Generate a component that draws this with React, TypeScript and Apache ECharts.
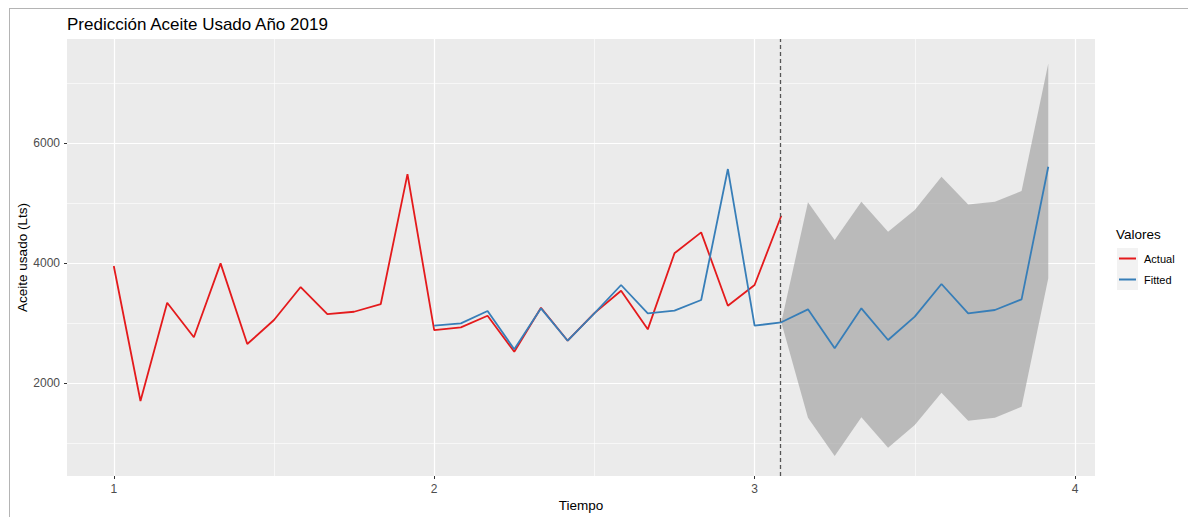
import React, { useEffect, useRef } from "react";
import * as echarts from "echarts";

// Time axis: monthly series starting at period 1
const startPeriod = 1;
const frequency = 12;

// Observed values (period 1, month 1 .. period 3, month 2)
const actual = [3955, 1705, 3344, 2767, 4000, 2655, 3055, 3605, 3155, 3193, 3322, 5488,
  2888, 2933, 3127, 2527, 3260, 2710, 3170, 3544, 2900, 4167, 4517, 3294,
  3639, 4794];
// Fitted values start at index 12
const fittedStart = 12;
const fitted = [2961, 3000, 3205, 2567, 3250, 2710, 3167, 3639, 3167, 3211, 3389, 5572, 2961, 3017];
// Forecast (starts at index 25, the last observed point)
const forecastStart = 25;
const forecast = [3017, 3233, 2583, 3250, 2722, 3111, 3656, 3167, 3222, 3400, 5611];
const upper = [3017, 5017, 4389, 5028, 4528, 4889, 5444, 4983, 5028, 5206, 7333];
const lower = [3017, 1428, 789, 1433, 928, 1306, 1844, 1378, 1428, 1611, 3750];

const xTicks = [1, 2, 3, 4];
const xMinorGrid = [1.5, 2.5, 3.5];
const yTicks = [2000, 4000, 6000];
const yMinorGrid = [1000, 3000, 5000, 7000];
const forecastMarker = 3 + 1 / 12;

const FONT = "Liberation Sans, Arial, sans-serif";
const tAt = (i: number) => startPeriod + i / frequency;

export default function App() {
  const ref = useRef<HTMLDivElement>(null);
  useEffect(() => {
    if (!ref.current) return;
    const chart = echarts.init(ref.current, null, { renderer: "svg" });

    const actualData = actual.map((v, i) => [tAt(i), v]);
    const blue = [...fitted, ...forecast.slice(1)];
    const blueData = blue.map((v, i) => [tAt(fittedStart + i), v]);
    const bandData = upper.map((u, i) => [tAt(forecastStart + i), lower[i], u]);

    const option: any = {
      animation: false,
      title: {
        text: "Predicción Aceite Usado Año 2019",
        left: 67,
        top: 16,
        padding: 0,
        textStyle: { fontFamily: FONT, fontSize: 17, fontWeight: "normal", color: "#000" },
      },
      grid: {
        left: 67, right: 93, top: 39, bottom: 41, show: true, backgroundColor: "#EBEBEB", borderWidth: 0,
        containLabel: false, outerBoundsMode: "none",
      },
      xAxis: {
        type: "value",
        min: 0.854,
        max: 4.0625,
        name: "Tiempo",
        nameLocation: "middle",
        nameGap: 22,
        nameMoveOverlap: false,
        nameTextStyle: { fontFamily: FONT, fontSize: 13.5, color: "#000" },
        splitLine: { show: false },
        axisLine: { show: false },
        axisTick: { show: true, customValues: xTicks, length: 3, lineStyle: { color: "#333", width: 1 } },
        axisLabel: { customValues: xTicks, color: "#4D4D4D", fontSize: 12, fontFamily: FONT, margin: 7, formatter: (v: number) => String(v) },
      },
      yAxis: {
        type: "value",
        min: 455,
        max: 7740,
        name: "Aceite usado (Lts)",
        nameLocation: "middle",
        nameGap: 38,
        nameMoveOverlap: false,
        nameTextStyle: { fontFamily: FONT, fontSize: 13.5, color: "#000" },
        splitLine: { show: false },
        axisLine: { show: false },
        axisTick: { show: true, customValues: yTicks, length: 3, lineStyle: { color: "#333", width: 1 } },
        axisLabel: { customValues: yTicks, color: "#4D4D4D", fontSize: 12, fontFamily: FONT, margin: 7, formatter: (v: number) => String(v) },
      },
      series: [
        {
          type: "line",
          data: [],
          silent: true,
          z: 1,
          markLine: {
            silent: true,
            z: 1,
            symbol: ["none", "none"],
            label: { show: false },
            emphasis: { disabled: true },
            lineStyle: { type: "solid", color: "#FFFFFF", width: 0.6 },
            data: [...xMinorGrid.map((v) => ({ xAxis: v })), ...yMinorGrid.map((v) => ({ yAxis: v }))],
          },
        },
        {
          type: "line",
          data: [],
          silent: true,
          z: 1,
          markLine: {
            silent: true,
            z: 1,
            symbol: ["none", "none"],
            label: { show: false },
            emphasis: { disabled: true },
            lineStyle: { type: "solid", color: "#FFFFFF", width: 1.2 },
            data: [...xTicks.map((v) => ({ xAxis: v })), ...yTicks.map((v) => ({ yAxis: v }))],
          },
        },
        {
          type: "custom",
          name: "Intervalo",
          z: 2,
          silent: true,
          data: bandData,
          encode: { x: 0, y: [1, 2] },
          renderItem: (params: any, api: any) => {
            if (params.dataIndex !== 0) return null;
            const top = bandData.map((d) => api.coord([d[0], d[2]]));
            const bot = bandData.map((d) => api.coord([d[0], d[1]])).reverse();
            return {
              type: "polygon",
              shape: { points: [...top, ...bot] },
              style: { fill: "rgba(165,165,165,0.7)" },
            };
          },
        },
        {
          type: "line",
          name: "Actual",
          z: 3,
          data: actualData,
          showSymbol: false,
          lineStyle: { color: "#E41A1C", width: 1.8 },
          itemStyle: { color: "#E41A1C" },
        },
        {
          type: "line",
          name: "Fitted",
          z: 4,
          data: blueData,
          showSymbol: false,
          lineStyle: { color: "#377EB8", width: 1.8 },
          itemStyle: { color: "#377EB8" },
        },
        {
          type: "line",
          data: [],
          silent: true,
          z: 6,
          markLine: {
            silent: true,
            z: 6,
            symbol: ["none", "none"],
            label: { show: false },
            emphasis: { disabled: true },
            lineStyle: { type: [4, 3], color: "#555555", width: 1.3 },
            data: [{ xAxis: forecastMarker }],
          },
        },
      ],
      graphic: [
        { type: "line", shape: { x1: 9, y1: 8.5, x2: 1188, y2: 8.5 }, style: { stroke: "#B4B4B4", lineWidth: 1 } },
        { type: "line", shape: { x1: 9.5, y1: 8, x2: 9.5, y2: 517 }, style: { stroke: "#B4B4B4", lineWidth: 1 } },
        {
          type: "text",
          x: 1116,
          y: 234,
          style: { text: "Valores", font: `13.5px ${FONT}`, fill: "#000", verticalAlign: "middle" },
        },
        { type: "rect", shape: { x: 1117, y: 248, width: 21, height: 21 }, style: { fill: "#F2F2F2" } },
        { type: "rect", shape: { x: 1117, y: 269, width: 21, height: 21 }, style: { fill: "#F2F2F2" } },
        { type: "line", shape: { x1: 1119, y1: 258.5, x2: 1136, y2: 258.5 }, style: { stroke: "#E41A1C", lineWidth: 2 } },
        { type: "line", shape: { x1: 1119, y1: 279.5, x2: 1136, y2: 279.5 }, style: { stroke: "#377EB8", lineWidth: 2 } },
        {
          type: "text",
          x: 1144,
          y: 258.5,
          style: { text: "Actual", font: `11px ${FONT}`, fill: "#000", verticalAlign: "middle" },
        },
        {
          type: "text",
          x: 1144,
          y: 279.5,
          style: { text: "Fitted", font: `11px ${FONT}`, fill: "#000", verticalAlign: "middle" },
        },
      ],
    };
    chart.setOption(option);
    return () => chart.dispose();
  }, []);

  return (
    <div
      ref={ref}
      style={{ position: "fixed", left: 0, top: 0, width: 1188, height: 517, background: "#FFFFFF" }}
    />
  );
}
